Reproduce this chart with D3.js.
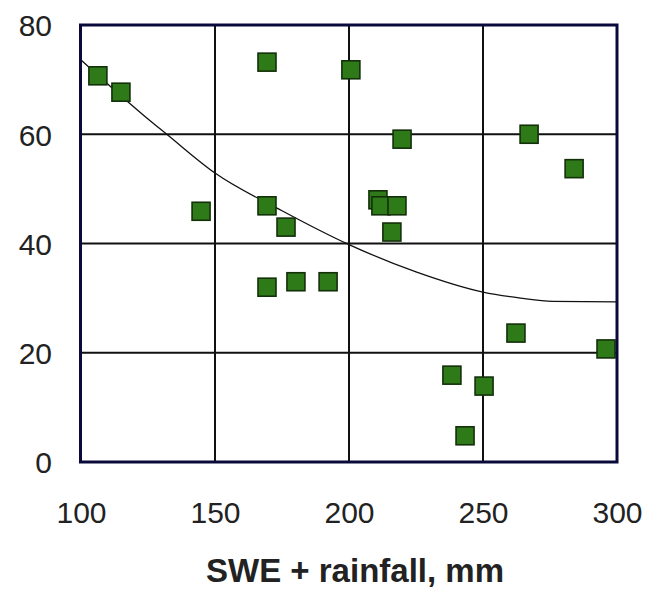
<!DOCTYPE html>
<html>
<head>
<meta charset="utf-8">
<script src="https://cdn.jsdelivr.net/npm/d3@7"></script>
<style>
  html, body { margin: 0; padding: 0; background: #ffffff; }
  svg { display: block; }
  text { font-family: "Liberation Sans", Arial, sans-serif; fill: #222; }
</style>
</head>
<body>
<svg id="chart" width="648" height="589"></svg>
<script>
// Observations: total water input (SWE + rainfall, mm) vs. response
const swe = [106.3, 114.9, 169.4, 144.8, 169.4, 176.5, 169.4, 180.2, 192.2, 200.7, 219.8,
             267.2, 284.0, 210.8, 211.9, 217.9, 216.0, 262.3, 295.9, 238.4, 250.4, 243.3];
const resp = [70.7, 67.7, 73.2, 45.9, 46.9, 43.0, 32.0, 33.0, 33.0, 71.8, 59.1,
              60.0, 53.7, 48.0, 46.9, 46.9, 42.1, 23.6, 20.7, 15.9, 13.9, 4.8];

// Fitted trend curve, sampled along x
const trendX = [100, 125, 132, 150, 175, 200, 225, 250, 264, 276, 300];
const trendY = [73.6, 62.8, 60.0, 52.9, 46.0, 39.8, 34.8, 31.1, 30.0, 29.4, 29.3];

// Axis ticks
const xTicks = [100, 150, 200, 250, 300];
const yTicks = [0, 20, 40, 60, 80];

const svg = d3.select("#chart");
const plotL = 81, plotR = 617, plotT = 25, plotB = 462;

const x = d3.scaleLinear().domain([100, 300]).range([plotL, plotR]);
const y = d3.scaleLinear().domain([0, 80]).range([plotB, plotT]);

// Grid lines
const grid = svg.append("g");
grid.selectAll("line.v").data(xTicks.slice(1, -1)).join("line")
  .attr("class", "v")
  .attr("x1", d => x(d)).attr("x2", d => x(d))
  .attr("y1", plotT).attr("y2", plotB)
  .attr("stroke", "#111").attr("stroke-width", 2);
grid.selectAll("line.h").data(yTicks.slice(1, -1)).join("line")
  .attr("class", "h")
  .attr("x1", plotL).attr("x2", plotR)
  .attr("y1", d => y(d)).attr("y2", d => y(d))
  .attr("stroke", "#111").attr("stroke-width", 2);

// Trend curve
const pts = trendX.map((v, i) => [v, trendY[i]]);
svg.append("path")
  .attr("d", d3.line().curve(d3.curveMonotoneX).x(d => x(d[0])).y(d => y(d[1]))(pts))
  .attr("fill", "none").attr("stroke", "#111").attr("stroke-width", 1.3);

// Markers
const sz = 18;
svg.append("g").selectAll("rect").data(swe.map((v, i) => [v, resp[i]])).join("rect")
  .attr("x", d => x(d[0]) - sz / 2)
  .attr("y", d => y(d[1]) - sz / 2)
  .attr("width", sz).attr("height", sz)
  .attr("fill", "#2e7a18").attr("stroke", "#13300a").attr("stroke-width", 1.6);

// Plot frame
svg.append("rect")
  .attr("x", plotL - 0.5).attr("y", plotT)
  .attr("width", plotR - plotL + 0.5).attr("height", plotB - plotT)
  .attr("fill", "none").attr("stroke", "#0a0a3a").attr("stroke-width", 3);

// Axis labels
const xAxis = svg.append("g")
  .attr("transform", `translate(0,${plotB})`)
  .call(d3.axisBottom(x).tickValues(xTicks).tickSize(0).tickPadding(0).tickFormat(d3.format("d")));
xAxis.select(".domain").remove();
xAxis.selectAll("text")
  .attr("y", 61).attr("dy", null)
  .style("font-family", '"Liberation Sans", Arial, sans-serif')
  .style("font-size", "30px").attr("fill", "#2a2a2a");

const yAxis = svg.append("g")
  .attr("transform", `translate(${plotL},0)`)
  .call(d3.axisLeft(y).tickValues(yTicks).tickSize(0).tickPadding(0).tickFormat(d3.format("d")));
yAxis.select(".domain").remove();
yAxis.selectAll("text")
  .attr("x", -29).attr("dy", "0.36em")
  .style("font-family", '"Liberation Sans", Arial, sans-serif')
  .style("font-size", "30px").attr("fill", "#2a2a2a");

// Axis title
svg.append("text")
  .attr("x", 355).attr("y", 582)
  .attr("text-anchor", "middle")
  .style("font-size", "33px").style("font-weight", "bold")
  .attr("fill", "#111")
  .text("SWE + rainfall, mm");
</script>
</body>
</html>
